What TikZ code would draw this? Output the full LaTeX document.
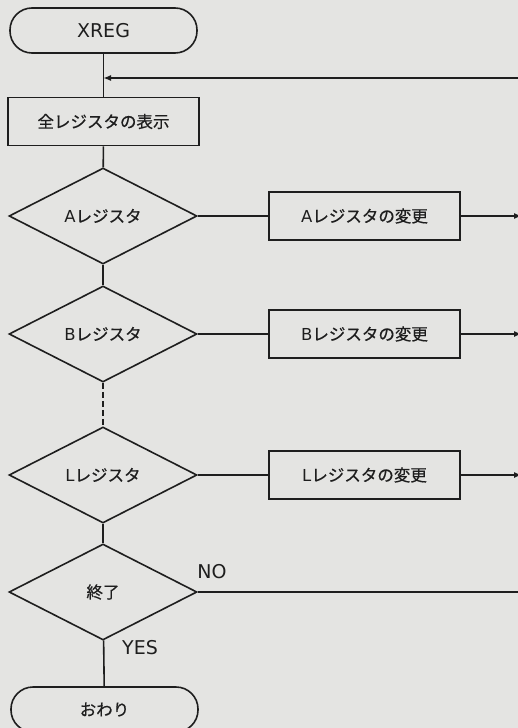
\documentclass[tikz,border=0pt]{standalone}
\usepackage{fontspec}
\setmainfont{DejaVu Sans}
\newfontfamily\jp[FakeBold=0.6]{Noto Sans CJK JP}
\usetikzlibrary{shapes.geometric,arrows.meta}
\definecolor{paper}{RGB}{228,228,226}
\definecolor{ink}{RGB}{30,30,30}
\begin{document}
\begin{tikzpicture}[x=1pt,y=-1pt,
  flow/.style={draw=ink,line width=1.6pt},
  term/.style={draw=ink,line width=1.6pt,rectangle,rounded corners=22pt,minimum width=187pt,minimum height=45pt,inner sep=0pt,text=ink},
  procbox/.style={draw=ink,line width=1.6pt,rectangle,minimum width=191pt,minimum height=48pt,inner sep=0pt,text=ink,font=\fontsize{16.5}{19}\selectfont},
  decbox/.style={draw=ink,line width=1.6pt,diamond,aspect=2,minimum width=188pt,minimum height=96pt,inner sep=0pt,text=ink,font=\fontsize{16.5}{19}\selectfont},
  lbl/.style={inner sep=0pt,text=ink,font=\fontsize{19}{22}\selectfont},
  tip/.style={-{Latex[length=8pt,width=6pt]}}
]
\fill[paper] (0,0) rectangle (518,728);
\useasboundingbox (0,0) rectangle (518,728);
\clip (0,0) rectangle (518,728);

% nodes
\node[term,font=\fontsize{19}{22}\selectfont] (start) at (103.5,30.5) {XREG};
\node[procbox] (all) at (103.5,121.5) {\jp 全レジスタの表示};
\node[decbox] (da) at (103,216) {A{\jp レジスタ}};
\node[decbox] (db) at (103,334) {B{\jp レジスタ}};
\node[decbox] (dl) at (103,475) {L{\jp レジスタ}};
\node[decbox] (dend) at (103,592) {\jp 終了};
\node[procbox] (pa) at (364.5,216) {A{\jp レジスタの変更}};
\node[procbox] (pb) at (364.5,334) {B{\jp レジスタの変更}};
\node[procbox] (pl) at (364.5,475) {L{\jp レジスタの変更}};
\node[term,font=\jp\fontsize{16.5}{19}\selectfont] (stop) at (104.5,709.5) {おわり};
\node[lbl] (no) at (212,572) {NO};
\node[lbl] (yes) at (140,648) {YES};

% free ends at the right edge
\coordinate (jtop) at (103,78);
\coordinate (rtop) at (530,78);
\coordinate (ra) at (522,216);
\coordinate (rb) at (522,334);
\coordinate (rl) at (522,475);
\coordinate (rend) at (530,592);

% connectors
\draw[flow] (start) -- (all);
\draw[flow,tip] (rtop) -- (jtop);
\draw[flow] (all) -- (da);
\draw[flow] (da) -- (db);
\draw[flow,dash pattern=on 6pt off 3pt] (db) -- (dl);
\draw[flow] (dl) -- (dend);
\draw[flow] (dend) -- (stop);
\draw[flow] (da) -- (pa);
\draw[flow] (db) -- (pb);
\draw[flow] (dl) -- (pl);
\draw[flow,tip] (pa) -- (ra);
\draw[flow,tip] (pb) -- (rb);
\draw[flow,tip] (pl) -- (rl);
\draw[flow] (dend) -- (rend);
\end{tikzpicture}
\end{document}
